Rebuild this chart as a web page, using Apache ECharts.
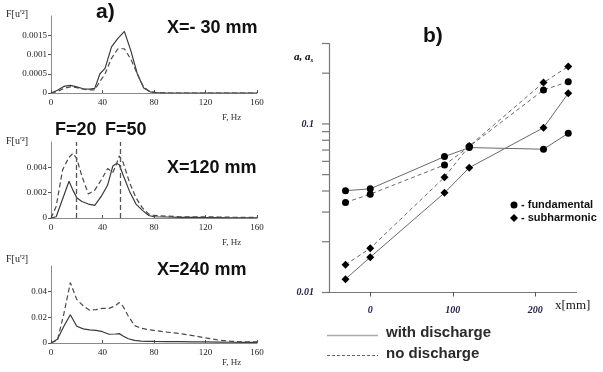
<!DOCTYPE html>
<html>
<head>
<meta charset="utf-8">
<script src="https://cdn.jsdelivr.net/npm/echarts@6/dist/echarts.min.js"></script>
<style>html,body{margin:0;padding:0;background:#fff}#c{width:603px;height:372px}</style>
</head>
<body>
<div id="c"></div>
<script>
// ---- panel a) spectra ----
const freqTop = [0,5,10,15,20,25,30,34,38,42,47,52,57,62,67,72,77,82,90,100,120,140,160];
const topWith = [0,0.00007,0.00017,0.0002,0.00016,0.00011,0.0001,0.00012,0.0005,0.00064,0.0012,0.00142,0.0016,0.0011,0.0005,0.00013,0.00003,0.00001,0,0,0,0,0];
const topNo   = [0,0.00004,0.00012,0.00016,0.00014,0.0001,0.00008,0.00008,0.0003,0.0005,0.0009,0.00115,0.00115,0.00088,0.0005,0.00015,0.00003,0.00001,0,0,0,0,0];

const freqMid = [0,4,9,14,17,20,24,29,34,39,44,48,51,53,56,61,66,71,76,80,90,100,110,120,130,140,150,160];
const midWith = [0,0.0001,0.0015,0.0029,0.0022,0.0016,0.0013,0.0011,0.001,0.0017,0.0026,0.0041,0.0043,0.0042,0.0034,0.0021,0.0011,0.0006,0.0002,0.0001,0.00008,0.00005,0.00006,0.00004,0.00003,0.00002,0.00002,0.00002];
const midNo   = [0,0.0009,0.0038,0.0048,0.0051,0.0047,0.0033,0.0019,0.0022,0.003,0.0039,0.0036,0.0043,0.0049,0.0044,0.0028,0.0016,0.0008,0.0003,0.0002,0.00015,0.0001,0.0001,0.0001,0.00008,0.00006,0.00005,0.00005];
const midMarks = [19.5, 53.5];

const freqBot = [0,5,10,15,20,25,30,35,40,45,50,53,56,60,65,70,75,80,90,100,110,120,130,140,150,160];
const botWith = [0,0.003,0.013,0.022,0.013,0.011,0.0103,0.0098,0.0088,0.0068,0.007,0.0073,0.0055,0.0033,0.002,0.0015,0.0013,0.0012,0.0011,0.001,0.0009,0.0008,0.0007,0.0006,0.0005,0.0005];
const botNo   = [0,0.0022,0.0228,0.047,0.034,0.029,0.0255,0.026,0.027,0.027,0.029,0.0315,0.0285,0.021,0.0135,0.0115,0.0105,0.0098,0.0085,0.0074,0.0058,0.004,0.0023,0.0013,0.0009,0.0008];

// ---- panel b) amplitudes ----
const xPos = [-30, 0, 90, 120, 210, 240];
const fundWith = [0.0402, 0.0412, 0.064, 0.0724, 0.0708, 0.088];
const fundNo   = [0.0342, 0.0383, 0.0571, 0.0734, 0.159, 0.178];
const subWith  = [0.0120, 0.0162, 0.039, 0.055, 0.095, 0.152];
const subNo    = [0.0146, 0.0183, 0.0483, 0.074, 0.176, 0.219];
const logTicks = [0.01,0.02,0.03,0.04,0.05,0.06,0.07,0.08,0.09,0.1,0.2,0.3];
const logLabels = [0.01, 0.1];
const bTicks = [0, 100, 200];

const zip = (xs, ys) => xs.map((x, i) => [x, ys[i]]);
const serif = 'Liberation Serif';
const sans = 'Liberation Sans';

function aX(i) {
  return {
    type: 'value', gridIndex: i, min: 0, max: 160, interval: 40,
    axisLine: { lineStyle: { color: '#8a8a8a', width: 1 } },
    axisTick: { inside: true, length: 3, lineStyle: { color: '#555' } },
    axisLabel: { fontFamily: serif, fontSize: 9, color: '#222', margin: 5 },
    splitLine: { show: false }
  };
}
function aY(i, max, interval) {
  return {
    type: 'value', gridIndex: i, min: 0, max: max, interval: interval,
    axisLine: { show: true, lineStyle: { color: '#8a8a8a', width: 1 } },
    axisTick: { show: true, length: 3, lineStyle: { color: '#555' } },
    axisLabel: { fontFamily: serif, fontSize: 9, color: '#222', margin: 4, showMaxLabel: false },
    splitLine: { show: false }
  };
}
const solid = { color: '#3a3a3a', width: 1.2, type: 'solid' };
const dash = { color: '#4a4a4a', width: 1.2, type: [5, 3] };

function lineSeries(i, data, style, extra) {
  return Object.assign({
    type: 'line', xAxisIndex: i, yAxisIndex: i, data: data,
    showSymbol: false, symbol: 'none', lineStyle: style, silent: true, animation: false
  }, extra || {});
}

const bSolid = { color: '#6a6a6a', width: 1, type: 'solid' };
const bDash = { color: '#6a6a6a', width: 1, type: [4, 3] };
function bSeries(data, style, sym, size) {
  return {
    type: 'line', xAxisIndex: 3, yAxisIndex: 3, data: zip(xPos, data),
    symbol: sym, symbolSize: size, showSymbol: true,
    itemStyle: { color: '#000' }, lineStyle: style, silent: true, animation: false
  };
}

const chart = echarts.init(document.getElementById('c'), null, { renderer: 'canvas' });
chart.setOption({
  animation: false,
  backgroundColor: '#fff',
  grid: [
    { left: 51, top: 16, width: 206, height: 77 },
    { left: 51, top: 142, width: 206, height: 76 },
    { left: 51, top: 266, width: 206, height: 77 },
    { left: 329, top: 43.5, width: 247.5, height: 249 }
  ],
  xAxis: [aX(0), aX(1), aX(2), {
    type: 'value', gridIndex: 3, min: -50, max: 250,
    axisLine: { onZero: false, lineStyle: { color: '#777', width: 1.2 } },
    axisTick: { show: true, customValues: bTicks, length: 4, lineStyle: { color: '#555' } },
    axisLabel: { customValues: bTicks, fontFamily: serif, fontStyle: 'italic', fontWeight: 'bold', fontSize: 10, color: '#22224a', margin: 13 },
    splitLine: { show: false }
  }],
  yAxis: [aY(0, 0.002, 0.0005), aY(1, 0.006, 0.002), aY(2, 0.06, 0.02), {
    type: 'log', logBase: 10, gridIndex: 3, min: 0.01, max: 0.3,
    axisLine: { show: true, onZero: false, lineStyle: { color: '#777', width: 1.2 } },
    axisTick: { show: false },
    axisLabel: { customValues: logLabels, fontFamily: serif, fontStyle: 'italic', fontWeight: 'bold', fontSize: 10, color: '#22224a', margin: 15,
      formatter: v => String(+Number(v).toPrecision(2)) },
    splitLine: { show: false }, minorTick: { show: false }
  }],
  series: [
    lineSeries(0, zip(freqTop, topWith), solid),
    lineSeries(0, zip(freqTop, topNo), dash),
    lineSeries(1, zip(freqMid, midWith), solid),
    lineSeries(1, zip(freqMid, midNo), dash, {
      markLine: {
        silent: true, symbol: 'none', label: { show: false },
        lineStyle: { color: '#555', width: 1.3, type: [5, 3] },
        data: midMarks.map(v => ({ xAxis: v }))
      }
    }),
    lineSeries(2, zip(freqBot, botWith), solid),
    lineSeries(2, zip(freqBot, botNo), dash),
    {
      // log-axis tick marks (drawn through the log scale)
      type: 'scatter', xAxisIndex: 3, yAxisIndex: 3, silent: true, animation: false,
      data: logTicks.map(v => [-50, v]), symbol: 'rect', symbolSize: [7, 1.2], symbolOffset: [-3.5, 0],
      itemStyle: { color: '#555' }, clip: false, z: 1
    },
    bSeries(fundWith, bSolid, 'circle', 7),
    bSeries(fundNo, bDash, 'circle', 7),
    bSeries(subWith, bSolid, 'diamond', 8),
    bSeries(subNo, bDash, 'diamond', 8)
  ],
  graphic: [
    { type: 'text', left: 96, top: 2, style: { text: 'a)', font: 'bold 21px ' + sans, fill: '#111' } },
    { type: 'text', left: 167, top: 19, style: { text: 'X=- 30 mm', font: 'bold 18px ' + sans, fill: '#111' } },
    { type: 'text', left: 167, top: 159, style: { text: 'X=120 mm', font: 'bold 18px ' + sans, fill: '#111' } },
    { type: 'text', left: 157, top: 261, style: { text: 'X=240 mm', font: 'bold 18px ' + sans, fill: '#111' } },
    { type: 'text', left: 55, top: 121, style: { text: 'F=20', font: 'bold 18px ' + sans, fill: '#111' } },
    { type: 'text', left: 105, top: 121, style: { text: 'F=50', font: 'bold 18px ' + sans, fill: '#111' } },
    { type: 'text', left: 6, top: 9, style: { text: "F[u'²]", font: '10px ' + serif, fill: '#222' } },
    { type: 'text', left: 6, top: 136, style: { text: "F[u'²]", font: '10px ' + serif, fill: '#222' } },
    { type: 'text', left: 6, top: 254, style: { text: "F[u'²]", font: '10px ' + serif, fill: '#222' } },
    { type: 'text', left: 222, top: 113, style: { text: 'F, Hz', font: '9px ' + serif, fill: '#333' } },
    { type: 'text', left: 222, top: 238, style: { text: 'F, Hz', font: '9px ' + serif, fill: '#333' } },
    { type: 'text', left: 222, top: 358, style: { text: 'F, Hz', font: '9px ' + serif, fill: '#333' } },
    { type: 'text', left: 423, top: 26, style: { text: 'b)', font: 'bold 21px ' + sans, fill: '#111' } },
    { type: 'text', left: 294, top: 52, style: { text: '{a|a, a}{s|s}', rich: {
      a: { fontFamily: serif, fontStyle: 'italic', fontWeight: 'bold', fontSize: 11, color: '#22224a' },
      s: { fontFamily: serif, fontStyle: 'italic', fontWeight: 'bold', fontSize: 7, color: '#22224a', padding: [5, 0, 0, 0] } } } },
    { type: 'text', left: 555, top: 299, style: { text: 'x[mm]', font: '13px ' + serif, fill: '#111' } },
    { type: 'circle', shape: { cx: 514, cy: 205, r: 3.5 }, style: { fill: '#000' } },
    { type: 'polygon', shape: { points: [[514, 214], [518, 218], [514, 222], [510, 218]] }, style: { fill: '#000' } },
    { type: 'text', left: 521, top: 199, style: { text: '- fundamental', font: 'bold 11px ' + sans, fill: '#111' } },
    { type: 'text', left: 521, top: 212, style: { text: '- subharmonic', font: 'bold 11px ' + sans, fill: '#111' } },
    { type: 'line', shape: { x1: 327, y1: 335.5, x2: 378, y2: 335.5 }, style: { stroke: '#aaa', lineWidth: 1.5 } },
    { type: 'line', shape: { x1: 327, y1: 355.5, x2: 378, y2: 355.5 }, style: { stroke: '#666', lineWidth: 1, lineDash: [3, 2] } },
    { type: 'text', left: 386, top: 325, style: { text: 'with discharge', font: 'bold 15px ' + sans, fill: '#2a2a2a' } },
    { type: 'text', left: 386, top: 346, style: { text: 'no discharge', font: 'bold 15px ' + sans, fill: '#2a2a2a' } }
  ]
});
</script>
</body>
</html>
